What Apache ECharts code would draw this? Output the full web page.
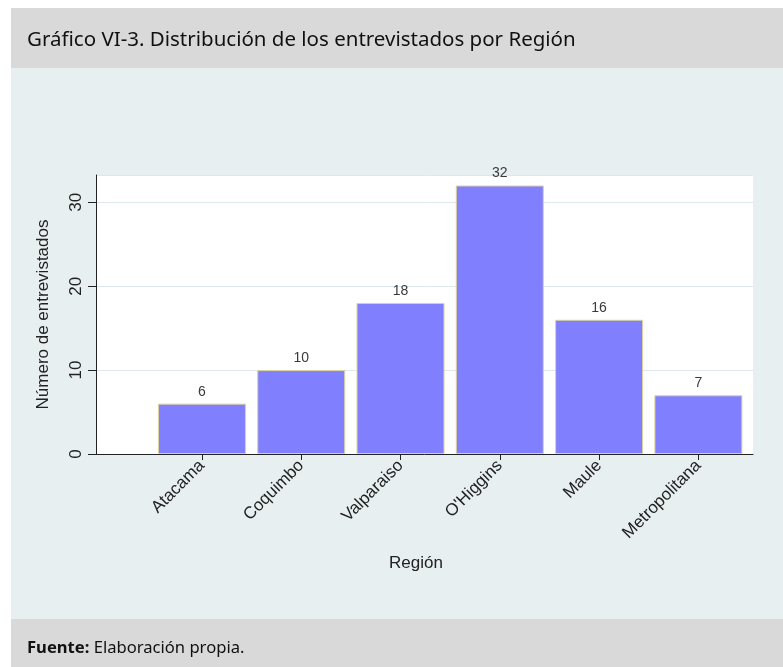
<!DOCTYPE html>
<html><head><meta charset="utf-8">
<script src="https://cdn.jsdelivr.net/npm/echarts@6/dist/echarts.min.js"></script>
<style>html,body{margin:0;padding:0;background:#fff}#c{width:783px;height:667px}</style>
</head><body><div id="c"></div>
<script>
const titleText = 'Gráfico VI-3. Distribución de los entrevistados por Región';
const sourceLabel = 'Fuente:';
const sourceText = ' Elaboración propia.';
const yAxisTitle = 'Número de entrevistados';
const xAxisTitle = 'Región';
const categories = ['Atacama', 'Coquimbo', 'Valparaiso', "O'Higgins", 'Maule', 'Metropolitana'];
const counts = [6, 10, 18, 32, 16, 7];
const yMin = 0, yMax = 33.25, yStep = 10;

const positions = categories.map((c, i) => i + 1);
const chart = echarts.init(document.getElementById('c'));
const axisFont = 'Liberation Sans, Arial, sans-serif';
chart.setOption({
  animation: false,
  graphic: [
    { type: 'rect', shape: { x: 11, y: 8, width: 772, height: 60 }, style: { fill: '#d9d9d9' }, z: -10 },
    { type: 'rect', shape: { x: 11, y: 68, width: 772, height: 551 }, style: { fill: '#e8eff1' }, z: -10 },
    { type: 'rect', shape: { x: 11, y: 619, width: 772, height: 48 }, style: { fill: '#d9d9d9' }, z: -10 },
    { type: 'text', x: 27, y: 40, style: { text: titleText, font: '20.5px "Noto Sans"', fill: '#111', verticalAlign: 'middle' } },
    { type: 'text', x: 27, y: 648, style: { text: '{b|' + sourceLabel + '}' + sourceText, font: '16.6px "Noto Sans"', fill: '#111', verticalAlign: 'middle',
      rich: { b: { fontFamily: 'Noto Sans', fontSize: 16.6, fontWeight: 'bold', fill: '#111' } } } }
  ],
  grid: { left: 96, right: 30, top: 175, bottom: 213, show: true, backgroundColor: '#ffffff', borderWidth: 0 },
  xAxis: {
    type: 'value', min: -0.067, max: 6.55,
    name: xAxisTitle, nameLocation: 'middle', nameGap: 101,
    nameTextStyle: { fontFamily: axisFont, fontSize: 17, color: '#222', padding: [0, 17, 0, 0] },
    axisLine: { show: true, onZero: false, lineStyle: { color: '#222', width: 1 } },
    axisTick: { show: true, customValues: positions, length: 6, lineStyle: { color: '#222' } },
    axisLabel: { customValues: positions, formatter: v => categories[Math.round(v) - 1] || '', rotate: 45, margin: 9,
      fontFamily: axisFont, fontSize: 17, color: '#222' },
    splitLine: { show: false }
  },
  yAxis: {
    type: 'value', min: yMin, max: yMax, interval: yStep,
    name: yAxisTitle, nameLocation: 'middle', nameGap: 44,
    nameTextStyle: { fontFamily: axisFont, fontSize: 17, color: '#222' },
    axisLine: { show: true, onZero: false, lineStyle: { color: '#222', width: 1 } },
    axisTick: { show: true, length: 8, lineStyle: { color: '#222' } },
    axisLabel: { rotate: 90, margin: 11, fontFamily: axisFont, fontSize: 17, color: '#222', showMaxLabel: false },
    splitLine: { show: true, lineStyle: { color: '#dde8ec', width: 1 } }
  },
  series: [{
    type: 'bar',
    data: positions.map((p, i) => [p, counts[i]]),
    barWidth: 88,
    itemStyle: { color: '#8080ff', borderColor: '#ddd39c', borderWidth: 1 },
    label: { show: true, position: 'top', distance: 5, fontFamily: axisFont, fontSize: 14, color: '#3a3a3a' }
  }]
});
</script></body></html>
